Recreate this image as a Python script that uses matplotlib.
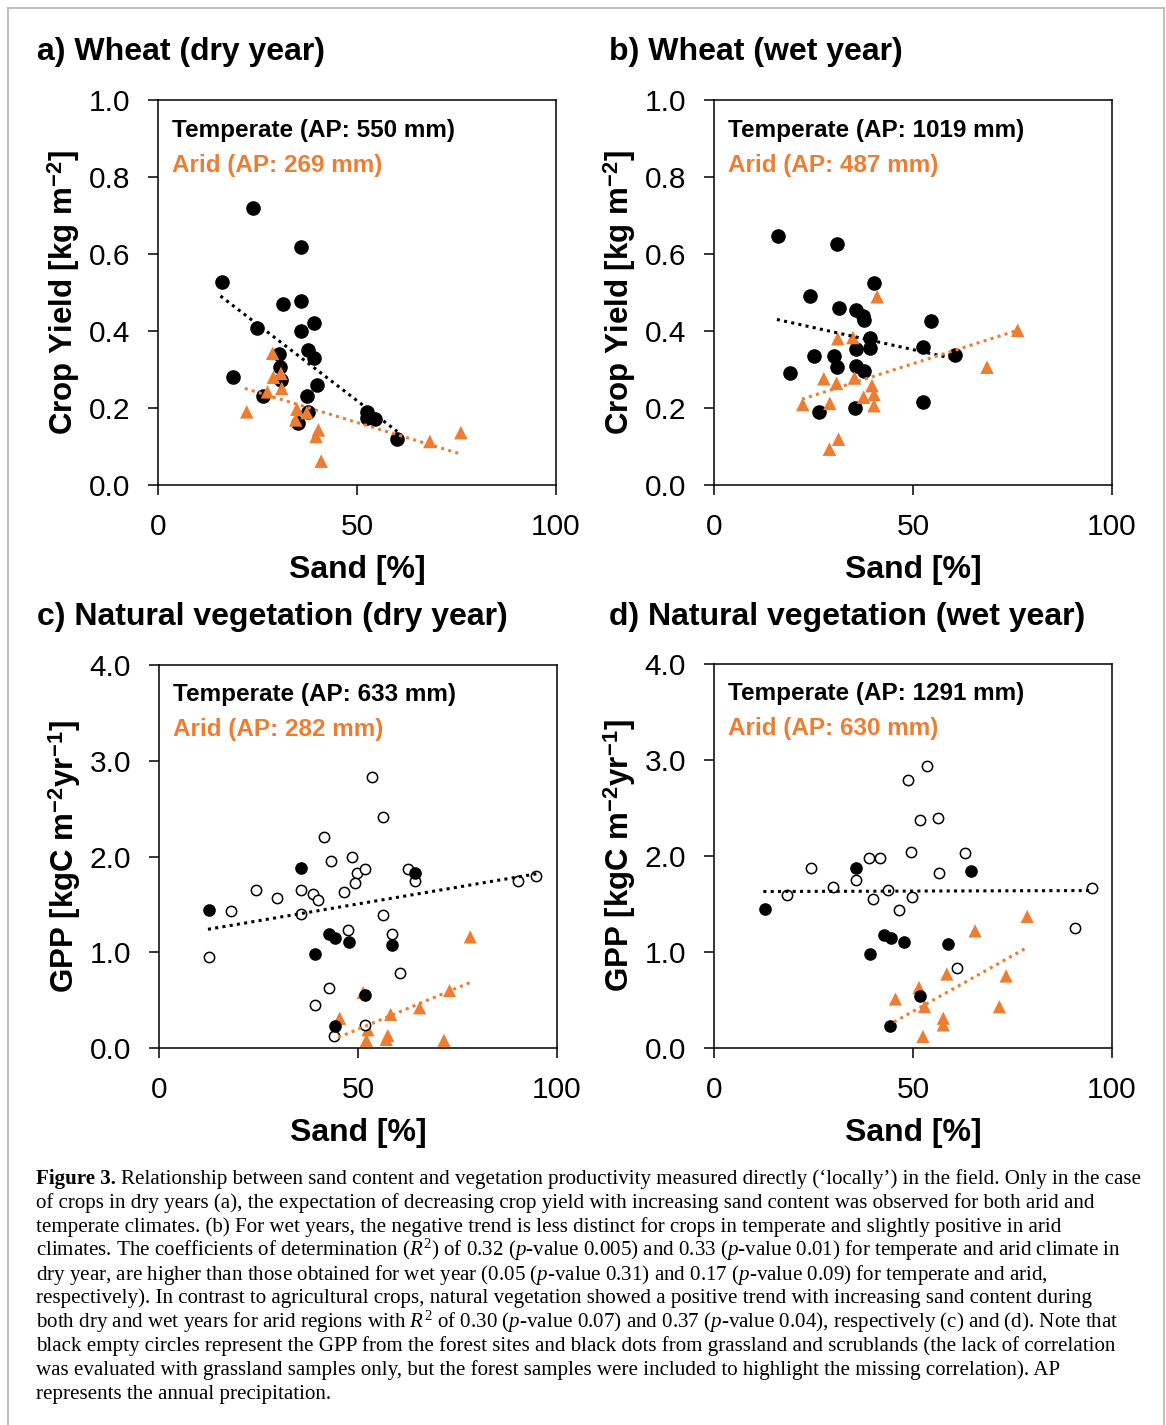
import matplotlib
matplotlib.use("Agg")
import matplotlib.pyplot as plt
from matplotlib.lines import Line2D

plt.rcParams['font.family'] = ['Liberation Sans', 'DejaVu Sans']
plt.rcParams['mathtext.fontset'] = 'custom'
plt.rcParams['mathtext.rm'] = 'Liberation Serif'
plt.rcParams['mathtext.it'] = 'Liberation Serif:italic'
plt.rcParams['mathtext.bf'] = 'Liberation Sans:bold'

ORANGE = '#ED7D31'

# a) wheat, dry year
a_temp_sand = [23.9, 35.9, 16.0, 35.9, 31.3, 24.8, 39.1, 35.9, 37.8, 39.1, 30.3, 30.7,
               30.8, 18.9, 40.0, 37.4, 26.5, 37.8, 35.3, 52.4, 52.5, 54.4, 60.1]
a_temp_yield = [0.719, 0.619, 0.528, 0.478, 0.470, 0.409, 0.420, 0.400, 0.351, 0.331, 0.339, 0.307,
                0.274, 0.280, 0.260, 0.231, 0.231, 0.190, 0.162, 0.190, 0.173, 0.171, 0.119]
a_arid_sand = [28.8, 29.0, 30.9, 31.1, 27.5, 22.3, 34.9, 37.4, 34.6, 40.3, 39.7, 41.0, 68.3, 76.1]
a_arid_yield = [0.342, 0.280, 0.290, 0.251, 0.242, 0.190, 0.197, 0.188, 0.169, 0.143, 0.126, 0.062, 0.113, 0.136]
a_trend_temp = ([15.7, 60.1], [0.491, 0.139])
a_trend_arid = ([21.8, 76.2], [0.251, 0.080])

# b) wheat, wet year
b_temp_sand = [16.2, 30.8, 40.2, 24.0, 31.3, 35.8, 37.5, 37.8, 54.5, 39.3, 35.8, 39.2,
               52.4, 60.5, 25.0, 30.1, 30.8, 35.8, 37.8, 19.0, 52.4, 26.3, 35.5]
b_temp_yield = [0.648, 0.625, 0.525, 0.490, 0.461, 0.454, 0.438, 0.428, 0.425, 0.383, 0.354, 0.356,
                0.358, 0.337, 0.335, 0.335, 0.306, 0.309, 0.295, 0.290, 0.215, 0.189, 0.200]
b_arid_sand = [41.0, 31.1, 34.9, 76.3, 68.6, 27.6, 30.8, 35.3, 39.7, 40.2, 37.6, 40.2, 29.1, 22.3, 31.3, 29.0]
b_arid_yield = [0.489, 0.380, 0.383, 0.402, 0.306, 0.276, 0.264, 0.278, 0.258, 0.235, 0.228, 0.206,
                0.212, 0.209, 0.119, 0.093]
b_trend_temp = ([15.8, 60.3], [0.430, 0.328])
b_trend_arid = ([22.1, 76.3], [0.223, 0.402])

# c) natural vegetation, dry year
c_forest_sand = [53.4, 56.4, 41.4, 48.5, 43.3, 49.8, 51.7, 49.3, 62.6, 64.2, 24.3, 35.8, 38.7, 40.0, 46.5,
                 29.6, 18.2, 35.6, 56.3, 90.2, 94.6, 47.5, 58.6, 12.6, 60.6, 42.6, 39.1, 51.7, 44.0]
c_forest_gpp = [2.83, 2.41, 2.20, 2.00, 1.95, 1.83, 1.87, 1.72, 1.87, 1.74, 1.65, 1.65, 1.61, 1.55, 1.63,
                1.57, 1.43, 1.40, 1.39, 1.74, 1.80, 1.23, 1.19, 0.95, 0.78, 0.63, 0.45, 0.24, 0.13]
c_grass_sand = [12.6, 35.8, 64.2, 42.6, 44.1, 47.7, 58.5, 39.1, 51.7, 44.1]
c_grass_gpp = [1.44, 1.88, 1.83, 1.19, 1.15, 1.11, 1.08, 0.98, 0.55, 0.23]
c_arid_sand = [78.2, 73.0, 65.5, 58.2, 51.3, 45.4, 52.5, 57.5, 57.1, 52.1, 71.6]
c_arid_gpp = [1.16, 0.60, 0.42, 0.35, 0.58, 0.31, 0.19, 0.13, 0.09, 0.08, 0.08]
c_trend_temp = ([12.3, 95.0], [1.24, 1.82])
c_trend_arid = ([45.0, 78.5], [0.11, 0.69])

# d) natural vegetation, wet year
d_forest_sand = [53.6, 48.7, 51.8, 56.3, 49.6, 63.0, 38.9, 41.7, 24.4, 56.6, 35.8, 29.9, 43.7, 95.0,
                 18.3, 40.0, 49.8, 46.5, 90.8, 61.0]
d_forest_gpp = [2.94, 2.79, 2.37, 2.40, 2.04, 2.03, 1.98, 1.98, 1.88, 1.82, 1.75, 1.68, 1.65, 1.67,
                1.59, 1.55, 1.57, 1.44, 1.25, 0.83]
d_grass_sand = [12.9, 35.8, 64.5, 42.7, 44.4, 47.7, 58.7, 39.3, 51.8, 44.2]
d_grass_gpp = [1.45, 1.88, 1.84, 1.18, 1.15, 1.10, 1.08, 0.98, 0.54, 0.23]
d_arid_sand = [78.7, 65.6, 73.4, 58.5, 71.7, 51.5, 45.6, 52.9, 57.6, 57.6, 52.5]
d_arid_gpp = [1.37, 1.22, 0.75, 0.77, 0.43, 0.63, 0.51, 0.43, 0.31, 0.24, 0.12]
d_trend_temp = ([12.4, 94.8], [1.63, 1.64])
d_trend_arid = ([45.2, 78.8], [0.27, 1.05])

titles = ['a) Wheat (dry year)', 'b) Wheat (wet year)',
          'c) Natural vegetation (dry year)', 'd) Natural vegetation (wet year)']
temp_labels = ['Temperate (AP: 550 mm)', 'Temperate (AP: 1019 mm)',
               'Temperate (AP: 633 mm)', 'Temperate (AP: 1291 mm)']
arid_labels = ['Arid (AP: 269 mm)', 'Arid (AP: 487 mm)', 'Arid (AP: 282 mm)', 'Arid (AP: 630 mm)']
crop_ticks = [0.0, 0.2, 0.4, 0.6, 0.8, 1.0]
gpp_ticks = [0.0, 1.0, 2.0, 3.0, 4.0]
sand_ticks = [0, 50, 100]

caption = [
    "Relationship between sand content and vegetation productivity measured directly (\u2018locally\u2019) in the field. Only in the case",
    "of crops in dry years (a), the expectation of decreasing crop yield with increasing sand content was observed for both arid and",
    "temperate climates. (b) For wet years, the negative trend is less distinct for crops in temperate and slightly positive in arid",
    "climates. The coefficients of determination ($\\mathit{R}^{\\mathrm{2}}$) of 0.32 ($\\mathit{p}$-value 0.005) and 0.33 ($\\mathit{p}$-value 0.01) for temperate and arid climate in",
    "dry year, are higher than those obtained for wet year (0.05 ($\\mathit{p}$-value 0.31) and 0.17 ($\\mathit{p}$-value 0.09) for temperate and arid,",
    "respectively). In contrast to agricultural crops, natural vegetation showed a positive trend with increasing sand content during",
    "both dry and wet years for arid regions with $\\mathit{R}^{\\mathrm{2}}$ of 0.30 ($\\mathit{p}$-value 0.07) and 0.37 ($\\mathit{p}$-value 0.04), respectively (c) and (d). Note that",
    "black empty circles represent the GPP from the forest sites and black dots from grassland and scrublands (the lack of correlation",
    "was evaluated with grassland samples only, but the forest samples were included to highlight the missing correlation). AP",
    "represents the annual precipitation.",
]

W, H = 1166, 1425
fig = plt.figure(figsize=(W / 100, H / 100), dpi=100)

# light frame around the figure
frame = dict(color='#b4b4b4', lw=1.2, transform=fig.transFigure)
fig.add_artist(Line2D([8 / W, 8 / W], [1 - 8 / H, 0], **frame))
fig.add_artist(Line2D([8 / W, 1164 / W], [1 - 8 / H, 1 - 8 / H], **frame))
fig.add_artist(Line2D([1164 / W, 1164 / W], [1 - 8 / H, 0], **frame))

boxes = [(158, 100, 485), (714, 100, 485), (159, 665, 1048), (714, 664, 1048)]
axes = []
for left, top, bottom in boxes:
    axes.append(fig.add_axes([left / W, 1 - bottom / H, 398 / W, (bottom - top) / H]))


def style(ax, ylim, yticks, ylabel):
    ax.set_xlim(0, 100)
    ax.set_ylim(*ylim)
    ax.set_xticks(sand_ticks)
    ax.set_yticks(yticks)
    ax.set_yticklabels([f'{t:.1f}' for t in yticks])
    ax.tick_params(direction='out', length=7, width=1.1, labelsize=21.5, pad=13)
    for s in ax.spines.values():
        s.set_linewidth(1.1)
    ax.set_xlabel('Sand [%]', fontsize=23, fontweight='bold', labelpad=10)
    ax.set_ylabel(ylabel, fontsize=22.5, fontweight='bold', labelpad=6)


def trend(ax, line, color):
    ax.plot(line[0], line[1], color=color, lw=2.2, ls=(0, (1, 1.4)), zorder=6)


def legend_text(ax, i):
    ax.text(0.035, 0.922, temp_labels[i], transform=ax.transAxes, fontsize=17.5,
            fontweight='bold', color='black', va='center', ha='left')
    ax.text(0.035, 0.831, arid_labels[i], transform=ax.transAxes, fontsize=17.5,
            fontweight='bold', color=ORANGE, va='center', ha='left')


crop_label = 'Crop Yield [kg m$^{\\mathbf{-2}}$]'
gpp_label = 'GPP [kgC m$^{\\mathbf{-2}}$yr$^{\\mathbf{-1}}$]'

# crops
for ax, ts, ty, asd, ay, tt, ta in [
        (axes[0], a_temp_sand, a_temp_yield, a_arid_sand, a_arid_yield, a_trend_temp, a_trend_arid),
        (axes[1], b_temp_sand, b_temp_yield, b_arid_sand, b_arid_yield, b_trend_temp, b_trend_arid)]:
    ax.scatter(ts, ty, s=90, color='black', zorder=3)
    ax.scatter(asd, ay, s=95, marker='^', color=ORANGE, edgecolors='none', zorder=4)
    trend(ax, tt, 'black')
    trend(ax, ta, ORANGE)
    style(ax, (0, 1.0), crop_ticks, crop_label)

# natural vegetation
for ax, fs, fg, gs, gg, asd, ag, tt, ta in [
        (axes[2], c_forest_sand, c_forest_gpp, c_grass_sand, c_grass_gpp, c_arid_sand, c_arid_gpp,
         c_trend_temp, c_trend_arid),
        (axes[3], d_forest_sand, d_forest_gpp, d_grass_sand, d_grass_gpp, d_arid_sand, d_arid_gpp,
         d_trend_temp, d_trend_arid)]:
    ax.scatter(asd, ag, s=90, marker='^', color=ORANGE, edgecolors='none', zorder=3, clip_on=False)
    ax.scatter(fs, fg, s=55, facecolors='white', edgecolors='black', linewidths=1.1, zorder=4)
    ax.scatter(gs, gg, s=65, color='black', zorder=5)
    trend(ax, tt, 'black')
    trend(ax, ta, ORANGE)
    style(ax, (0, 4.0), gpp_ticks, gpp_label)

for i, ax in enumerate(axes):
    legend_text(ax, i)
    ax.yaxis.set_label_coords(-0.19, 0.5)

title_pos = [(37, 52), (609, 52), (37, 617), (609, 617)]
for (x, y), t in zip(title_pos, titles):
    fig.text(x / W, 1 - y / H, t, fontsize=23, fontweight='bold', ha='left', va='center')

# caption
cap_font = dict(family='Liberation Serif', fontsize=15.1, ha='left', va='baseline')
y0 = 1184
bold = fig.text(36 / W, 1 - y0 / H, 'Figure 3.', fontweight='bold', **cap_font)
renderer = fig.canvas.get_renderer()
bb = bold.get_window_extent(renderer)
fig.text((bb.x1 + 5) / W, 1 - y0 / H, caption[0], **cap_font)
for k, line in enumerate(caption[1:], start=1):
    fig.text(36 / W, 1 - (y0 + 23.9 * k) / H, line, **cap_font)

fig.savefig('out.png', dpi=100)
